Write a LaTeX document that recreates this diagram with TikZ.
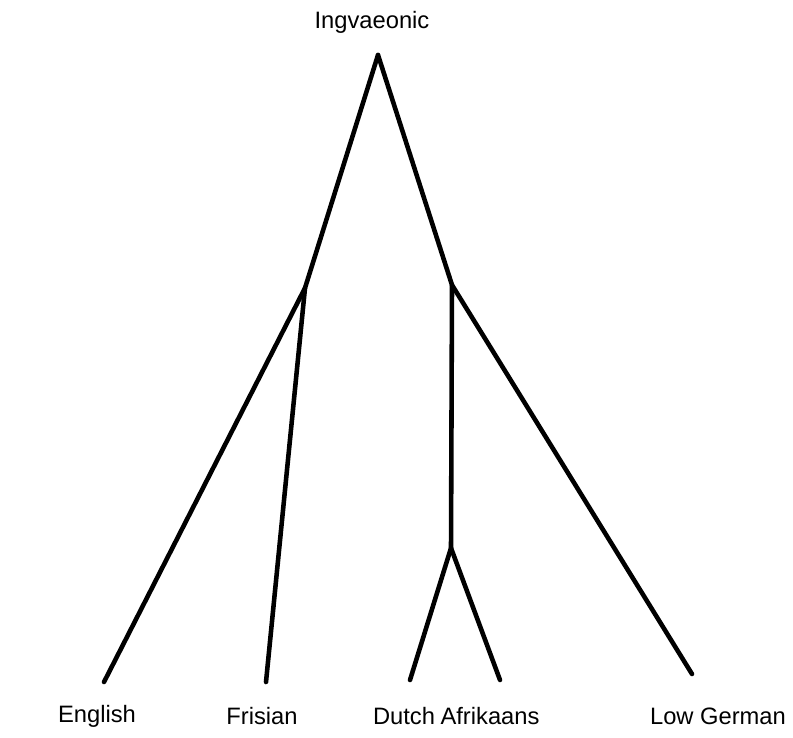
\documentclass[tikz,border=0pt]{standalone}
\usepackage{fontspec}
\setmainfont{Liberation Sans}
\usetikzlibrary{positioning}

\begin{document}
\begin{tikzpicture}[
    x=0.02cm, y=-0.02cm,
    branch/.style={line width=2.6pt, line cap=round, line join=round},
    lang/.style={font=\fontsize{13.5}{16}\selectfont, inner sep=1pt}
]
\useasboundingbox (0,0) rectangle (793,737);

% Root of the tree
\node[lang] (ingv) at (372,22) {Ingvaeonic};
\coordinate (top) at (378,55);

% Inner branch points
\coordinate (anglofris) at (305,288);
\coordinate (franc) at (452,285);
\coordinate (dutchafr) at (451,548);

% Leaf tips and their labels
\foreach \name/\tipx/\tipy/\labx/\txt in {
    english/104/682/97/English,
    frisian/266/682/262/Frisian,
    dutch/410/680/404/Dutch,
    afrikaans/500/680/490/Afrikaans,
    lowgerman/692/674/718/Low German} {
    \coordinate (\name tip) at (\tipx,\tipy);
    \node[lang] (\name) at (\labx,716) {\txt};
}

% Branches
\draw[branch] (top) -- (anglofris) -- (englishtip);
\draw[branch] (anglofris) -- (frisiantip);
\draw[branch] (top) -- (franc) -- (lowgermantip);
\draw[branch] (franc) -- (dutchafr) -- (dutchtip);
\draw[branch] (dutchafr) -- (afrikaanstip);

\end{tikzpicture}
\end{document}
